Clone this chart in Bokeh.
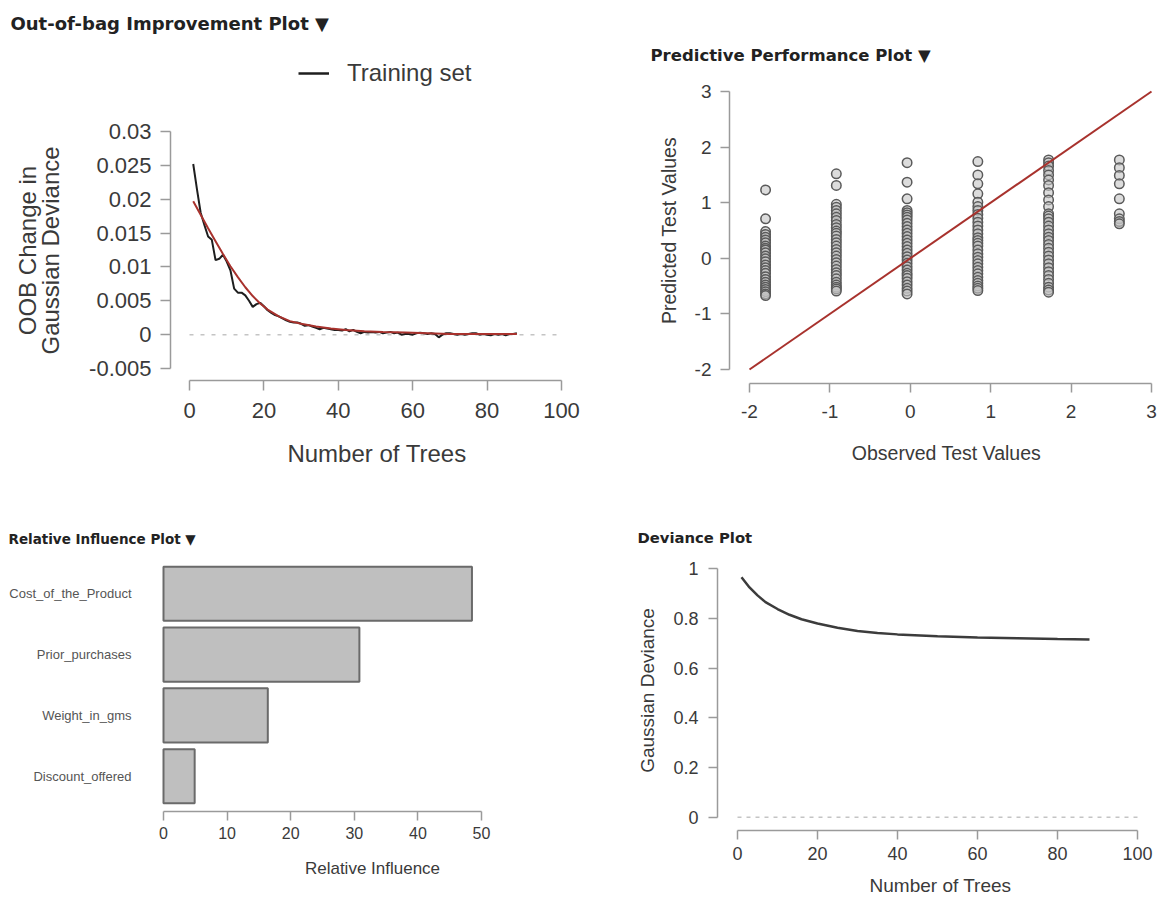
import numpy as np
from bokeh.plotting import figure
from bokeh.layouts import column, row
from bokeh.models import FixedTicker, Label, Legend, LegendItem, Range1d, FactorRange
from bokeh.embed import file_html
from bokeh.resources import INLINE

# ---------------- data ----------------
oob_trees = list(range(1, 89))
oob_change = [0.0252, 0.0215, 0.0180, 0.0162, 0.0145, 0.0140, 0.0110, 0.0112, 0.0118, 0.0108,
              0.0095, 0.0068, 0.0062, 0.0062, 0.0058, 0.0050, 0.0041, 0.0045, 0.0047, 0.0042,
              0.0036, 0.0032, 0.0029, 0.0027, 0.0024, 0.0021, 0.0019, 0.0018, 0.0018, 0.0016,
              0.0013, 0.0014, 0.0012, 0.0010, 0.0008, 0.0010, 0.0009, 0.0008, 0.0007, 0.0007,
              0.0006, 0.0008, 0.0005, 0.0007, 0.0004, 0.0002, 0.0004, 0.0003, 0.0004, 0.0003,
              0.0004, 0.0002, 0.0003, 0.0004, 0.0002, 0.0003, 0.0000, 0.0001, 0.0001, 0.0000,
              0.0002, 0.0003, 0.0002, 0.0001, 0.0002, 0.0001, -0.0004, 0.0000, 0.0002, 0.0002,
              0.0001, 0.0000, 0.0001, 0.0000, 0.0001, 0.0002, 0.0002, 0.0000, 0.0001, 0.0000,
              -0.0001, 0.0001, 0.0000, 0.0001, -0.0001, 0.0001, 0.0001, 0.0002]
fit_trees = [1, 3, 5, 7, 9, 11, 13, 15, 17, 19, 21, 24, 27, 30, 34, 38, 42, 47, 52, 58, 64, 70, 76, 82, 88]
fit_change = [0.0197, 0.0177, 0.0157, 0.0138, 0.0119, 0.0101, 0.0085, 0.0070, 0.0057, 0.0046,
              0.0037, 0.0027, 0.0020, 0.0016, 0.0012, 0.0009, 0.0007, 0.0005, 0.0004, 0.0003,
              0.0002, 0.0001, 0.0001, 0.0001, 0.0001]
oob_xticks = [0, 20, 40, 60, 80, 100]
oob_yticks = [-0.005, 0, 0.005, 0.01, 0.015, 0.02, 0.025, 0.03]
oob_ytick_labels = ["-0.005", "0", "0.005", "0.01", "0.015", "0.02", "0.025", "0.03"]

obs_levels = [-1.80, -0.92, -0.04, 0.84, 1.72, 2.60]
pred_by_level = [
    [1.23, 0.71, 0.48, 0.43, 0.38, 0.33, 0.28, 0.22, 0.18, 0.15, 0.10, 0.04, -0.01, -0.06,
     -0.12, -0.17, -0.22, -0.27, -0.33, -0.38, -0.43, -0.48, -0.52, -0.56, -0.60, -0.64, -0.67],
    [1.52, 1.31, 0.97, 0.92, 0.86, 0.80, 0.74, 0.68, 0.61, 0.55, 0.49, 0.45, 0.40, 0.34, 0.28,
     0.22, 0.16, 0.10, 0.04, -0.02, -0.08, -0.14, -0.20, -0.26, -0.31, -0.37, -0.43, -0.48,
     -0.52, -0.55, -0.59],
    [1.72, 1.37, 1.07, 0.86, 0.82, 0.78, 0.74, 0.69, 0.63, 0.57, 0.51, 0.45, 0.39, 0.33, 0.27,
     0.21, 0.15, 0.09, 0.03, -0.03, -0.09, -0.15, -0.21, -0.27, -0.31, -0.36, -0.42, -0.48,
     -0.54, -0.59, -0.64],
    [1.74, 1.50, 1.34, 1.16, 1.01, 0.93, 0.86, 0.79, 0.72, 0.65, 0.58, 0.51, 0.44, 0.37, 0.32,
     0.27, 0.22, 0.15, 0.08, 0.02, -0.04, -0.10, -0.16, -0.22, -0.28, -0.34, -0.40, -0.45,
     -0.50, -0.54, -0.58],
    [1.77, 1.72, 1.66, 1.58, 1.50, 1.41, 1.31, 1.18, 1.05, 0.93, 0.80, 0.76, 0.71, 0.65, 0.58,
     0.51, 0.44, 0.38, 0.32, 0.25, 0.18, 0.11, 0.04, -0.03, -0.10, -0.17, -0.24, -0.31, -0.38,
     -0.45, -0.52, -0.57, -0.61],
    [1.77, 1.63, 1.49, 1.34, 1.07, 0.80, 0.71, 0.66, 0.62],
]
pp_ticks = [-2, -1, 0, 1, 2, 3]
pp_tick_labels = ["-2", "-1", "0", "1", "2", "3"]

ri_vars = ["Cost_of_the_Product", "Prior_purchases", "Weight_in_gms", "Discount_offered"]
ri_values = [48.5, 30.8, 16.4, 4.9]
ri_xticks = [0, 10, 20, 30, 40, 50]

dev_trees = [1, 3, 5, 7, 10, 13, 16, 20, 25, 30, 35, 40, 50, 60, 70, 80, 88]
dev_values = [0.966, 0.925, 0.893, 0.866, 0.838, 0.815, 0.797, 0.780, 0.763, 0.750, 0.742,
              0.736, 0.728, 0.723, 0.720, 0.717, 0.715]
dev_xticks = [0, 20, 40, 60, 80, 100]
dev_yticks = [0, 0.2, 0.4, 0.6, 0.8, 1]
dev_ytick_labels = ["0", "0.2", "0.4", "0.6", "0.8", "1"]

titles = ["Out-of-bag Improvement Plot \u25BC", "Predictive Performance Plot \u25BC",
          "Relative Influence Plot \u25BC", "Deviance Plot"]
legend_label = "Training set"

# ---------------- style ----------------
FONT = "Liberation Sans"
TFONT = "DejaVu Sans"
AX = "#9a9a9a"
TXT = "#3a3a3a"
RED = "#a8322d"
LINE_BLACK = "#1e1e1e"
W_L, W_R = 583, 580


def base_fig(w, h, xr, yr, left, right, top, bottom):
    p = figure(width=w, height=h, x_range=xr, y_range=yr, output_backend="svg",
               toolbar_location=None, min_border_left=left, min_border_right=right,
               min_border_top=top, min_border_bottom=bottom)
    p.frame_align = False
    p.outline_line_color = None
    p.xgrid.visible = False
    p.ygrid.visible = False
    p.background_fill_color = "white"
    p.border_fill_color = "white"
    for ax in (p.xaxis[0], p.yaxis[0]):
        ax.axis_line_color = AX
        ax.axis_line_width = 1.5
        ax.major_tick_line_color = AX
        ax.major_tick_line_width = 1.5
        ax.major_tick_in = 0
        ax.minor_tick_line_color = None
        ax.major_label_text_font = FONT
        ax.major_label_text_color = TXT
        ax.axis_label_text_font = FONT
        ax.axis_label_text_font_style = "normal"
        ax.axis_label_text_color = TXT
    return p


def title_strip(w, h, text, tx, ty, size):
    s = figure(width=w, height=h, x_range=Range1d(0, w), y_range=Range1d(h, 0),
               x_axis_type=None, y_axis_type=None, output_backend="svg",
               toolbar_location=None, min_border=0)
    s.frame_align = False
    s.outline_line_color = None
    s.xgrid.visible = False
    s.ygrid.visible = False
    s.add_layout(Label(x=tx, y=ty, text=text, text_font=TFONT, text_font_style="bold",
                       text_font_size=size, text_color="#222222",
                       text_baseline="middle", text_align="left"))
    return s


# ---------- Panel 1: OOB improvement (title strip y 0-120, plot y 120-500) ----------
sx1 = (561 - 189) / 100.0
sy1 = (368 - 131) / 0.035
x1s = 0 - (189 - 170) / sx1
x1e = x1s + (583 - 170) / sx1
y1s = -0.005 - (380 - 368) / sy1
y1e = y1s + (380 - 120) / sy1
p1 = base_fig(W_L, 380, Range1d(x1s, x1e), Range1d(y1s, y1e), 170, 0, 0, 120)
p1.line(x=[min(oob_xticks), max(oob_xticks)], y=[0, 0], line_color="#c4c4c4",
        line_width=1.5, line_dash="4 7")
p1.line(oob_trees, oob_change, line_color=LINE_BLACK, line_width=2)
p1.line(fit_trees, fit_change, line_color=RED, line_width=2)
p1.xaxis.ticker = FixedTicker(ticks=oob_xticks)
p1.yaxis.ticker = FixedTicker(ticks=oob_yticks)
p1.xaxis.bounds = (min(oob_xticks), max(oob_xticks))
p1.yaxis.bounds = (min(oob_yticks), max(oob_yticks))
p1.yaxis.major_label_overrides = dict(zip(oob_yticks, oob_ytick_labels))
for ax in (p1.xaxis[0], p1.yaxis[0]):
    ax.major_tick_out = 10
    ax.major_label_text_font_size = "22px"
    ax.axis_label_text_font_size = "24px"
p1.xaxis.major_label_standoff = 12
p1.xaxis.axis_label = "Number of Trees"
p1.xaxis.axis_label_standoff = 19
p1.yaxis.major_label_standoff = 9
p1.yaxis.axis_label = "OOB Change in\nGaussian Deviance"
p1.yaxis.axis_label_text_line_height = 0.85
p1.yaxis.axis_label_standoff = 22

t1 = title_strip(W_L, 120, titles[0], 10, 23, "18px")
# legend key for the training-set line (sits in the strip above the plot frame);
# the key renderer holds a single NaN point so it draws nothing itself
key_line = t1.line(x=np.array([np.nan]), y=np.array([np.nan]), line_color=LINE_BLACK,
                   line_width=2.5)
leg1 = Legend(items=[LegendItem(label=legend_label, renderers=[key_line])],
              location=(298, 120 - 75 - 12), padding=0, margin=0, spacing=0,
              glyph_width=31, glyph_height=24, label_height=24, label_standoff=18,
              label_text_font=FONT, label_text_font_size="24px", label_text_color=TXT,
              border_line_color=None, background_fill_alpha=0)
t1.add_layout(leg1)

# ---------- Panel 2: predictive performance (strip y 0-77, plot y 77-500) ----------
sx2 = (1151 - 749) / 5.0
sy2 = (369 - 91) / 5.0
x2s = -2 - (749 - 729) / sx2
x2e = x2s + (1163 - 729) / sx2
y2s = -2 - (383 - 369) / sy2
y2e = y2s + (383 - 77) / sy2
p2 = base_fig(W_R, 423, Range1d(x2s, x2e), Range1d(y2s, y2e), 729 - 583, 0, 0, 500 - 383)
obs_x, pred_y = [], []
for lvl, preds in zip(obs_levels, pred_by_level):
    obs_x += [lvl] * len(preds)
    pred_y += preds
p2.scatter(obs_x, pred_y, size=9.5, fill_color="#c4c4c4", fill_alpha=0.6,
           line_color="#5a5a5a", line_width=1.5)
p2.line(x=[min(pp_ticks), max(pp_ticks)], y=[min(pp_ticks), max(pp_ticks)],
        line_color=RED, line_width=2)
p2.xaxis.ticker = FixedTicker(ticks=pp_ticks)
p2.yaxis.ticker = FixedTicker(ticks=pp_ticks)
p2.xaxis.bounds = (min(pp_ticks), max(pp_ticks))
p2.yaxis.bounds = (min(pp_ticks), max(pp_ticks))
p2.xaxis.major_label_overrides = dict(zip(pp_ticks, pp_tick_labels))
p2.yaxis.major_label_overrides = dict(zip(pp_ticks, pp_tick_labels))
for ax in (p2.xaxis[0], p2.yaxis[0]):
    ax.major_tick_out = 9
    ax.major_label_text_font_size = "19px"
    ax.axis_label_text_font_size = "19.5px"
p2.xaxis.major_label_standoff = 12
p2.xaxis.axis_label = "Observed Test Values"
p2.xaxis.axis_label_standoff = 21
p2.yaxis.major_label_standoff = 9
p2.yaxis.axis_label = "Predicted Test Values"
p2.yaxis.axis_label_standoff = 12
t2 = title_strip(W_R, 77, titles[1], 650 - 583, 55, "16.5px")

# ---------- Panel 3: relative influence (strip y 500-550, plot y 550-900) ----------
sx3 = (481 - 163) / 50.0
x3s = -(163 - 161) / sx3
x3e = x3s + (583 - 161) / sx3
p3 = base_fig(W_L, 350, Range1d(x3s, x3e), FactorRange(*reversed(ri_vars), range_padding=0.04),
              161, 0, 558 - 550, 900 - 811)
p3.hbar(y=ri_vars, right=ri_values, left=0, height=0.89, fill_color="#bfbfbf",
        line_color="#6a6a6a", line_width=2)
p3.xaxis.ticker = FixedTicker(ticks=ri_xticks)
p3.xaxis.bounds = (min(ri_xticks), max(ri_xticks))
p3.xaxis.major_tick_out = 9
p3.xaxis.major_label_text_font_size = "16px"
p3.xaxis.major_label_standoff = 6
p3.xaxis.axis_label = "Relative Influence"
p3.xaxis.axis_label_text_font_size = "17px"
p3.xaxis.axis_label_standoff = 17
p3.yaxis.axis_line_color = None
p3.yaxis.major_tick_line_color = None
p3.yaxis.major_tick_out = 0
p3.yaxis.major_label_standoff = 30
p3.yaxis.major_label_text_font_size = "13px"
p3.yaxis.major_label_text_color = "#555555"
t3 = title_strip(W_L, 50, titles[2], 8, 38, "13.5px")

# ---------- Panel 4: deviance (strip y 500-550, plot y 550-900) ----------
sx4 = (1137 - 737) / 100.0
sy4 = (816.7 - 568.3) / 1.0
x4s = -(737 - 717) / sx4
x4e = x4s + (1163 - 717) / sx4
y4s = -(830 - 816.7) / sy4
y4e = y4s + (830 - 550) / sy4
p4 = base_fig(W_R, 350, Range1d(x4s, x4e), Range1d(y4s, y4e), 717 - 583, 0, 0, 900 - 830)
p4.line(x=[min(dev_xticks), max(dev_xticks)], y=[0, 0], line_color="#c4c4c4",
        line_width=1.5, line_dash="4 5")
p4.line(dev_trees, dev_values, line_color="#3c3c3c", line_width=2.5)
p4.xaxis.ticker = FixedTicker(ticks=dev_xticks)
p4.yaxis.ticker = FixedTicker(ticks=dev_yticks)
p4.xaxis.bounds = (min(dev_xticks), max(dev_xticks))
p4.yaxis.bounds = (min(dev_yticks), max(dev_yticks))
p4.yaxis.major_label_overrides = dict(zip(dev_yticks, dev_ytick_labels))
for ax in (p4.xaxis[0], p4.yaxis[0]):
    ax.major_tick_out = 9
    ax.major_label_text_font_size = "18px"
    ax.axis_label_text_font_size = "19px"
p4.xaxis.major_label_standoff = 7
p4.xaxis.axis_label = "Number of Trees"
p4.xaxis.axis_label_standoff = 12
p4.yaxis.major_label_standoff = 10
p4.yaxis.axis_label = "Gaussian Deviance"
p4.yaxis.axis_label_standoff = 12
t4 = title_strip(W_R, 50, titles[3], 637 - 583, 37, "14.8px")

layout = column(row(column(t1, p1), column(t2, p2)), row(column(t3, p3), column(t4, p4)))
open("out.html", "w").write(file_html(layout, INLINE))
